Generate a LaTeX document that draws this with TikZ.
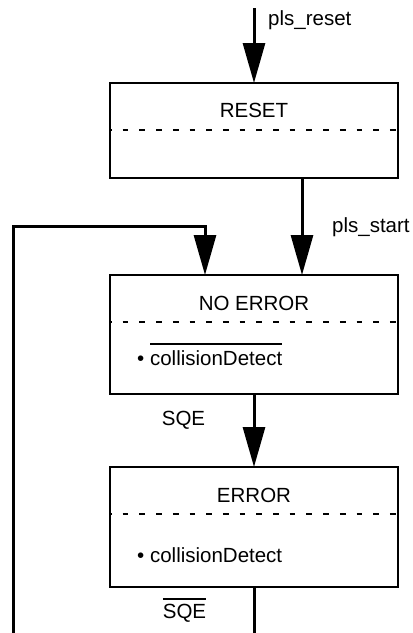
\documentclass[tikz,border=0pt]{standalone}
\usepackage{fontspec}
\setmainfont{Liberation Sans}
\usetikzlibrary{arrows.meta}
\newcommand\ovline[2]{\vbox{\hrule height 2pt\kern#1\hbox{#2}}}
\begin{document}
\begin{tikzpicture}[x=1pt,y=-1pt,
  box/.style={draw,line width=2pt,minimum width=288pt,inner sep=0pt,outer sep=0pt},
  conn/.style={line width=3pt},
  arr/.style={conn,-{Triangle[length=40pt,width=22pt]}},
  lbl/.style={font=\fontsize{20.5}{24}\selectfont,inner sep=0pt},
  divider/.style={line width=2pt,dash pattern=on 5.7pt off 11pt,dash phase=4pt}]
\useasboundingbox (0,0) rectangle (413,633);
% boxes
\node[box,minimum height=95pt] (reset) at (254,130.5) {};
\node[box,minimum height=119pt] (noerr) at (254,334.5) {};
\node[box,minimum height=120pt] (err) at (254,527) {};
% dividers
\draw[divider] (reset.west |- 0,130) -- (reset.east |- 0,130);
\draw[divider] (noerr.west |- 0,322) -- (noerr.east |- 0,322);
\draw[divider] (err.west |- 0,514) -- (err.east |- 0,514);
% texts
\node[lbl,anchor=base west] (tres) at (268,25) {pls\_reset};
\node[lbl,anchor=base] (treset) at (254,117) {RESET};
\node[lbl,anchor=base west] (tstart) at (332,232) {pls\_start};
\node[lbl,anchor=base] (tnoerr) at (254,310) {NO ERROR};
\node[lbl,anchor=base west] (tcd1) at (137,365.7) {• \ovline{5.5pt}{collisionDetect}};
\node[lbl,anchor=base] (tsqe) at (183.5,425) {SQE};
\node[lbl,anchor=base] (terr) at (254,502.7) {ERROR};
\node[lbl,anchor=base west] (tcd2) at (137,562) {• collisionDetect};
\node[lbl,anchor=base] (tnsqe) at (184.5,618) {\ovline{3.5pt}{SQE}};
% connectors
\coordinate (top) at (254,8);
\draw[arr] (top) -- (reset.north);
\draw[arr] ([xshift=48pt]reset.south) -- ([xshift=48pt]noerr.north);
\draw[arr] (noerr.south) -- (err.north);
\coordinate (bot) at (254,633);
\draw[conn] (err.south) -- (bot);
\coordinate (lb) at (13.5,633);
\coordinate (lt) at (13.5,226.5);
\draw[arr] (lb) -- (lt) -| ([xshift=-49pt]noerr.north);
\end{tikzpicture}
\end{document}
